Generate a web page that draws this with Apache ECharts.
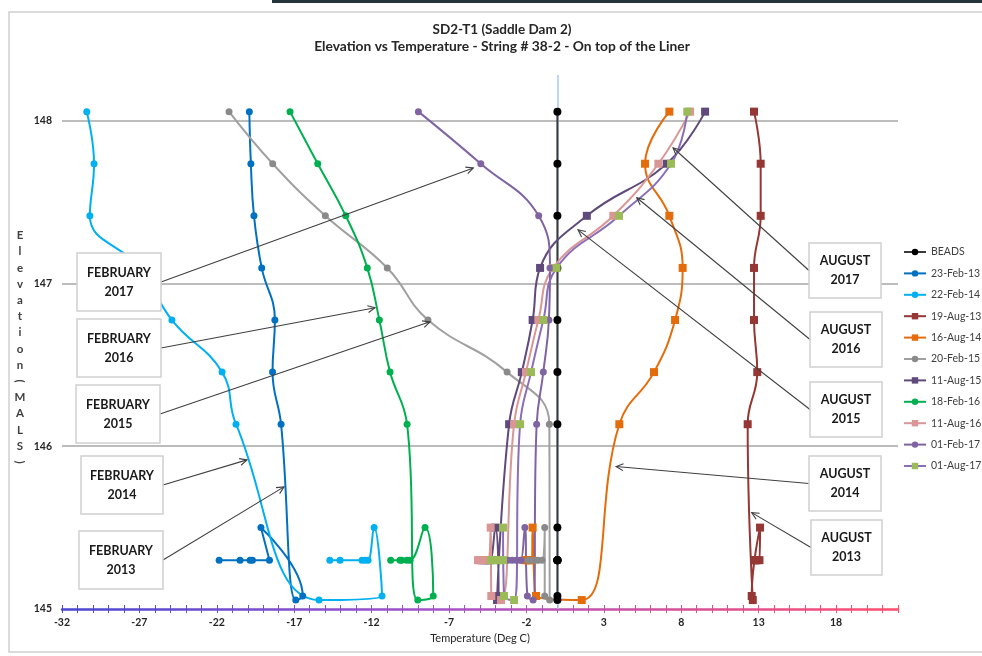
<!DOCTYPE html>
<html>
<head>
<meta charset="utf-8">
<script src="https://cdn.jsdelivr.net/npm/echarts@6/dist/echarts.min.js"></script>
<style>
  html, body { margin: 0; padding: 0; background: #ffffff; }
  #chart { width: 982px; height: 656px; }
</style>
</head>
<body>
<div id="chart"></div>
<script>
// Bead elevations along the string (m above sea level), in reading order
const elevations = [148.055, 147.735, 147.415, 147.095, 146.775, 146.455, 146.135,
                    145.055, 145.08, 145.5, 145.3, 145.3, 145.3, 145.3, 145.3];

// Temperature readings (deg C), one per bead
const beads  = [0, 0, 0, 0, 0, 0, 0, 0, 0, 0, 0, 0, 0, 0, 0];
const feb13  = [-19.9, -19.8, -19.6, -19.1, -18.25, -18.4, -17.85, -16.9, -16.45, -19.15, -18.6, -19.7, -19.85, -20.5, -21.85];
const feb14  = [-30.4, -29.93, -30.2, -26.96, -24.9, -21.66, -20.76, -15.4, -11.33, -11.84, -12.23, -12.43, -12.62, -14.04, -14.7];
const aug13  = [12.7, 13.13, 13.13, 12.7, 12.7, 12.91, 12.29, 12.62, 12.55, 13.09, 13.05, 12.9, 12.8, 12.75, 12.75];
const aug14  = [7.23, 5.66, 7.23, 8.09, 7.6, 6.24, 4.0, 1.57, -1.38, -1.6, -1.65, -1.75, -1.85, -1.95, -2.05];
const feb15  = [-21.21, -18.39, -14.99, -10.99, -8.36, -3.25, -0.52, -0.5, -0.82, -0.82, -0.99, -1.25, -1.44, -1.7, -1.9];
const aug15  = [9.54, 7.06, 1.9, -1.12, -1.6, -2.3, -3.12, -3.9, -3.8, -4.01, -4.35, -4.48, -4.61, -4.74, -4.87];
const feb16  = [-17.27, -15.48, -13.67, -12.28, -11.5, -10.81, -9.71, -9.02, -8.02, -8.55, -9.52, -9.73, -10.06, -10.17, -10.77];
const aug16  = [8.57, 6.52, 3.61, -0.28, -1.23, -2.03, -2.8, -3.64, -4.27, -4.31, -4.48, -4.67, -4.87, -5.0, -5.13];
const feb17  = [-8.98, -4.95, -1.21, -0.48, -0.55, -0.91, -1.34, -1.57, -1.94, -2.1, -2.35, -2.41, -2.67, -2.93, -3.19];
const aug17  = [8.39, 7.34, 3.98, -0.05, -0.91, -1.7, -2.41, -2.8, -3.45, -3.51, -3.51, -3.7, -3.9, -4.1, -4.29];

const seriesNames = ['BEADS', '23-Feb-13', '22-Feb-14', '19-Aug-13', '16-Aug-14', '20-Feb-15',
                     '11-Aug-15', '18-Feb-16', '11-Aug-16', '01-Feb-17', '01-Aug-17'];
const seriesTemps = [beads, feb13, feb14, aug13, aug14, feb15, aug15, feb16, aug16, feb17, aug17];

// Axis ranges and tick labels
const tempMin = -32, tempMax = 22, tempStep = 5;
const elevMin = 145, elevMax = 148.28, elevStep = 1;

// Callout labels and the reading each one points at [temperature, elevation]
const calloutLabels = ['FEBRUARY\n2017', 'FEBRUARY\n2016', 'FEBRUARY\n2015', 'FEBRUARY\n2014', 'FEBRUARY\n2013',
                       'AUGUST\n2017', 'AUGUST\n2016', 'AUGUST\n2015', 'AUGUST\n2014', 'AUGUST\n2013'];
const calloutTargets = [[-5.43, 147.709], [-11.78, 146.85], [-8.23, 146.764], [-20.05, 145.916], [-17.66, 145.75],
                        [7.47, 147.833], [5.13, 147.526], [1.33, 147.329], [3.79, 145.875], [12.55, 145.592]];

// ---- styling ----
const FONT = "Lato, 'Open Sans', sans-serif";
const styles = [
  { line: '#3a3a3a', item: '#000000', symbol: 'circle', size: 8 },
  { line: '#0070C0', item: '#0070C0', symbol: 'circle', size: 7 },
  { line: '#00B0F0', item: '#00B0F0', symbol: 'circle', size: 7 },
  { line: '#953735', item: '#953735', symbol: 'rect',   size: 8 },
  { line: '#E46C0A', item: '#E46C0A', symbol: 'rect',   size: 8 },
  { line: '#A0A0A0', item: '#8A8A8A', symbol: 'circle', size: 7 },
  { line: '#604A7B', item: '#604A7B', symbol: 'rect',   size: 8 },
  { line: '#00B050', item: '#00B050', symbol: 'circle', size: 7 },
  { line: '#D99694', item: '#D99694', symbol: 'rect',   size: 8 },
  { line: '#8064A2', item: '#8064A2', symbol: 'circle', size: 7 },
  { line: '#8A6FB8', item: '#9BBB59', symbol: 'rect',   size: 8 }
];

const gridBox = { left: 62, right: 84, top: 75, bottom: 47 };
const axisGradient = () => new echarts.graphic.LinearGradient(62, 0, 898, 0, [
  { offset: 0, color: '#4747d0' },
  { offset: 0.45, color: '#a452c8' },
  { offset: 1, color: '#ff4d6d' }
], true);

const series = seriesNames.map((name, i) => ({
  name: name,
  type: 'line',
  data: seriesTemps[i].map((t, k) => [t, elevations[k]]),
  smooth: 0.45,
  symbol: styles[i].symbol,
  symbolSize: styles[i].size,
  showSymbol: true,
  lineStyle: { color: styles[i].line, width: 2 },
  itemStyle: { color: styles[i].item },
  emphasis: { disabled: true },
  z: 3,
  animation: false
}));

// vertical axis line crossing at 0 deg C
series[0].markLine = {
  silent: true,
  symbol: ['none', 'none'],
  label: { show: false },
  lineStyle: { color: '#a9c8f0', width: 1.5, type: 'solid' },
  z: 1,
  data: [{ xAxis: 0 }]
};

const tickAxis = (inside) => ({
  type: 'value', min: tempMin, max: tempMax, interval: 1, position: 'bottom',
  axisLine: { show: false, onZero: false },
  axisTick: { show: true, inside: inside, length: 4, lineStyle: { color: axisGradient(), width: 1 } },
  axisLabel: { show: false },
  splitLine: { show: false }
});

const chart = echarts.init(document.getElementById('chart'), null, { renderer: 'canvas' });

chart.setOption({
  backgroundColor: '#ffffff',
  animation: false,
  grid: gridBox,
  legend: {
    orient: 'vertical',
    left: 903,
    top: 245,
    padding: 0,
    itemWidth: 22,
    itemHeight: 8,
    itemGap: 7.4,
    selectedMode: false,
    textStyle: { fontSize: 10.5, color: '#404040', fontFamily: FONT, lineHeight: 14 },
    data: seriesNames
  },
  xAxis: [
    {
      type: 'value', min: tempMin, max: tempMax, interval: tempStep, position: 'bottom',
      name: 'Temperature (Deg C)', nameLocation: 'middle', nameGap: 22,
      nameTextStyle: { fontSize: 11, color: '#262626', fontFamily: FONT },
      axisLine: { show: true, onZero: false, lineStyle: { color: axisGradient(), width: 2.5 } },
      axisTick: { show: false },
      axisLabel: { showMaxLabel: false, fontSize: 10.5, color: '#262626', fontFamily: FONT, fontWeight: 'bold', margin: 8 },
      splitLine: { show: false }
    },
    tickAxis(true),
    tickAxis(false)
  ],
  yAxis: {
    type: 'value', min: elevMin, max: elevMax, interval: elevStep,
    axisLine: { show: false },
    axisTick: { show: false },
    axisLabel: { showMaxLabel: false, fontSize: 10.5, fontWeight: 'bold', color: '#262626', fontFamily: FONT, margin: 10 },
    splitLine: { show: true, showMinLine: false, showMaxLine: false, lineStyle: { color: '#a6a6a6', width: 1.5 } }
  },
  series: series
});

// ---- titles, frame, axis title and callouts ----
const graphics = [];

graphics.push({ type: 'rect', silent: true, z: 0, shape: { x: 272, y: 0, width: 710, height: 3 }, style: { fill: '#26343b' } });
graphics.push({ type: 'rect', silent: true, z: 0, shape: { x: 9, y: 12, width: 990, height: 640 }, style: { fill: null, stroke: '#cfcfcf', lineWidth: 1.5 } });

graphics.push({ type: 'text', silent: true, z: 50, x: 502, y: 30,
  style: { text: 'SD2-T1 (Saddle Dam 2)', fontSize: 13.5, fontWeight: 'bold', fontFamily: FONT, fill: '#262626', align: 'center', verticalAlign: 'middle' } });
graphics.push({ type: 'text', silent: true, z: 50, x: 502, y: 47,
  style: { text: 'Elevation vs Temperature - String # 38-2 - On top of the Liner', fontSize: 13.8, fontWeight: 'bold', fontFamily: FONT, fill: '#262626', align: 'center', verticalAlign: 'middle' } });

// stacked vertical axis title
const yTitle = 'Elevation (MALS)'.replace(/\s/g, '').split('');
yTitle.forEach((ch, i) => {
  const rotated = ch === '(' || ch === ')';
  graphics.push({ type: 'text', silent: true, z: 50, x: 20, y: 235.4 + i * 16.2, rotation: rotated ? -Math.PI / 2 : 0,
    style: { text: ch, fontSize: 11.5, fontWeight: 'bold', fontFamily: FONT, fill: '#404040', align: 'center', verticalAlign: 'middle' } });
});

// callout boxes: left column for February surveys, right column for August
const calloutBoxes = [
  { x: 77, y: 253, w: 84, h: 58 }, { x: 77, y: 319, w: 84, h: 58 }, { x: 76, y: 385, w: 84, h: 58 },
  { x: 81, y: 456, w: 82, h: 58 }, { x: 79, y: 531, w: 84, h: 58 },
  { x: 809, y: 243, w: 72, h: 55 }, { x: 810, y: 312, w: 72, h: 55 }, { x: 810, y: 382, w: 72, h: 55 },
  { x: 809, y: 456, w: 72, h: 55 }, { x: 811, y: 520, w: 71, h: 55 }
];

calloutLabels.forEach((label, i) => {
  const b = calloutBoxes[i];
  const onLeft = i < 5;
  const start = onLeft ? [b.x + b.w, b.y + b.h / 2] : [b.x, b.y + b.h / 2];
  const end = chart.convertToPixel({ seriesIndex: 0 }, calloutTargets[i]);
  const ang = Math.atan2(end[1] - start[1], end[0] - start[0]);
  const hl = 8, ha = 0.45;
  graphics.push({ type: 'line', silent: true, z: 40,
    shape: { x1: start[0], y1: start[1], x2: end[0], y2: end[1] },
    style: { stroke: '#404040', lineWidth: 1.1 } });
  graphics.push({ type: 'polyline', silent: true, z: 40,
    shape: { points: [
      [end[0] - hl * Math.cos(ang - ha), end[1] - hl * Math.sin(ang - ha)],
      end,
      [end[0] - hl * Math.cos(ang + ha), end[1] - hl * Math.sin(ang + ha)]
    ] },
    style: { stroke: '#404040', lineWidth: 1.1, fill: null } });
  graphics.push({ type: 'rect', silent: true, z: 45,
    shape: { x: b.x, y: b.y, width: b.w, height: b.h },
    style: { fill: '#ffffff', stroke: '#d0d0d0', lineWidth: 1.5 } });
  graphics.push({ type: 'text', silent: true, z: 46, x: b.x + b.w / 2, y: b.y + b.h / 2,
    style: { text: label, fontSize: 12.5, fontWeight: 'bold', fontFamily: FONT, fill: '#1a1a1a',
             align: 'center', verticalAlign: 'middle', lineHeight: 19 } });
});

chart.setOption({ graphic: graphics });
</script>
</body>
</html>
